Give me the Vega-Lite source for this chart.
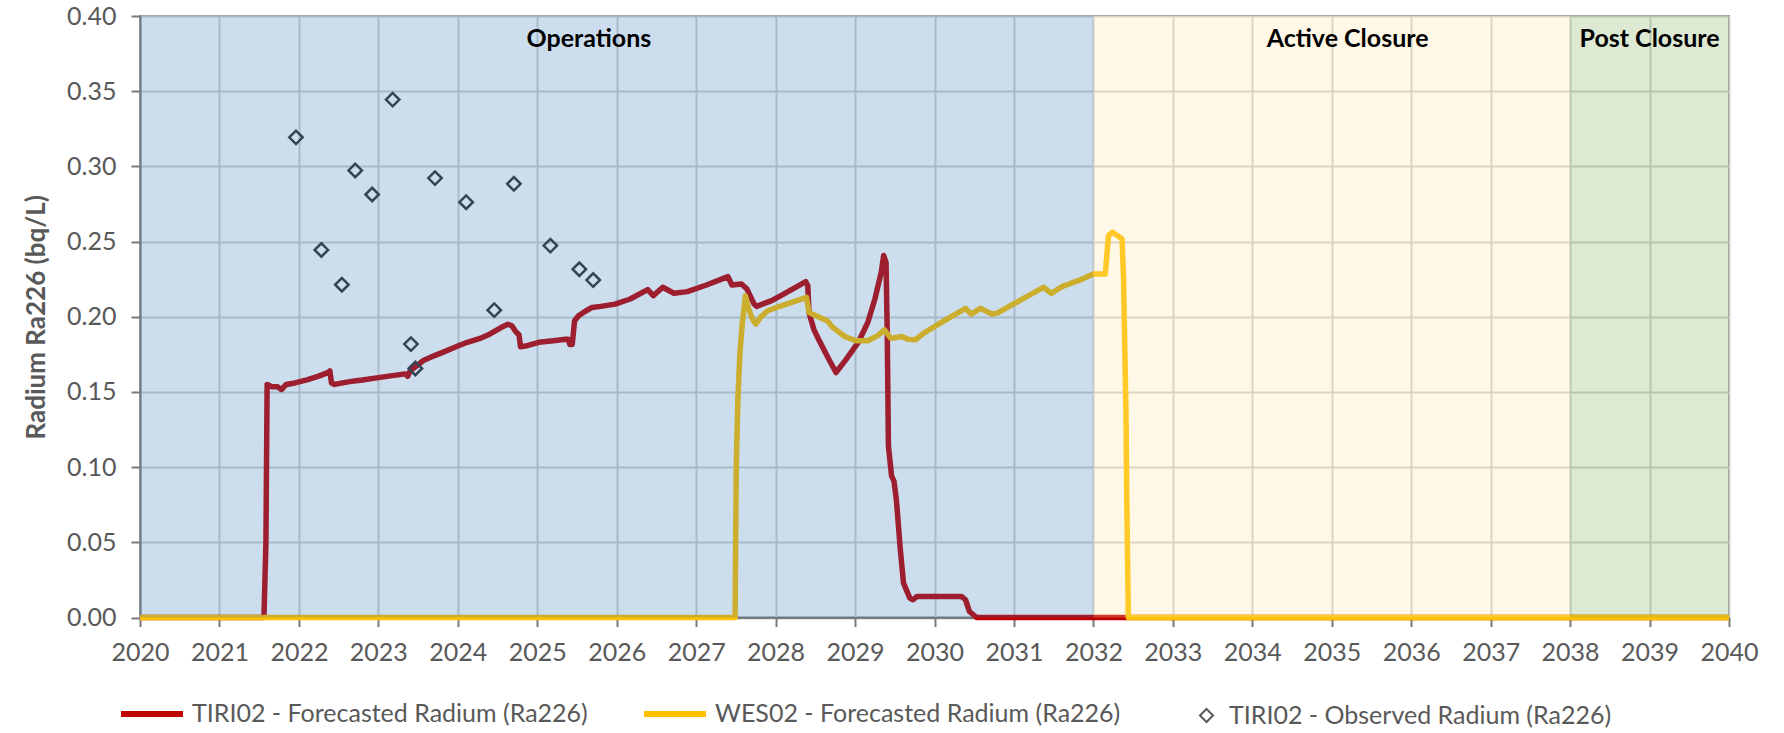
{
  "$schema": "https://vega.github.io/schema/vega-lite/v6.json",
  "width": 1589,
  "height": 601.5,
  "autosize": {"type": "none"},
  "padding": {"left": 140, "top": 16, "right": 55, "bottom": 115.5},
  "background": "white",
  "config": {
    "font": "Lato",
    "view": {"stroke": "#7f7f7f", "strokeWidth": 2},
    "axis": {
      "grid": true,
      "gridColor": "#cfcfcf",
      "gridWidth": 2,
      "domainColor": "#7a7a7a",
      "domainWidth": 2,
      "tickColor": "#7a7a7a",
      "tickWidth": 2,
      "tickSize": 9,
      "labelFont": "Lato",
      "labelFontSize": 25,
      "labelColor": "#595959",
      "labelOverlap": false,
      "labelFlush": false
    }
  },
  "datasets": {
    "tiri": [
      {"year": 2020, "value": 0},
      {"year": 2021.56, "value": 0},
      {"year": 2021.585, "value": 0.05},
      {"year": 2021.6, "value": 0.155},
      {"year": 2021.66, "value": 0.1535},
      {"year": 2021.73, "value": 0.1535},
      {"year": 2021.78, "value": 0.1515},
      {"year": 2021.84, "value": 0.155},
      {"year": 2021.95, "value": 0.156},
      {"year": 2022.1, "value": 0.158},
      {"year": 2022.25, "value": 0.1605},
      {"year": 2022.37, "value": 0.163},
      {"year": 2022.39, "value": 0.164},
      {"year": 2022.41, "value": 0.156},
      {"year": 2022.45, "value": 0.155},
      {"year": 2022.55, "value": 0.156},
      {"year": 2022.66, "value": 0.157},
      {"year": 2022.72, "value": 0.1575},
      {"year": 2022.8, "value": 0.158},
      {"year": 2023.0, "value": 0.1595},
      {"year": 2023.2, "value": 0.161},
      {"year": 2023.34, "value": 0.162},
      {"year": 2023.37, "value": 0.1605},
      {"year": 2023.4, "value": 0.164},
      {"year": 2023.45, "value": 0.166},
      {"year": 2023.56, "value": 0.1707},
      {"year": 2023.7, "value": 0.174},
      {"year": 2023.84, "value": 0.177},
      {"year": 2024.0, "value": 0.1805},
      {"year": 2024.12, "value": 0.183},
      {"year": 2024.3, "value": 0.186},
      {"year": 2024.4, "value": 0.1884},
      {"year": 2024.55, "value": 0.193},
      {"year": 2024.63, "value": 0.195},
      {"year": 2024.68, "value": 0.194},
      {"year": 2024.73, "value": 0.19},
      {"year": 2024.77, "value": 0.188},
      {"year": 2024.79, "value": 0.18},
      {"year": 2024.85, "value": 0.1805},
      {"year": 2025.02, "value": 0.183},
      {"year": 2025.2, "value": 0.184},
      {"year": 2025.36, "value": 0.1851},
      {"year": 2025.39, "value": 0.1851},
      {"year": 2025.41, "value": 0.1815},
      {"year": 2025.44, "value": 0.1815},
      {"year": 2025.47, "value": 0.1973},
      {"year": 2025.52, "value": 0.2007},
      {"year": 2025.6, "value": 0.2035},
      {"year": 2025.69, "value": 0.2062},
      {"year": 2025.8, "value": 0.2069},
      {"year": 2025.98, "value": 0.2084},
      {"year": 2026.17, "value": 0.2118},
      {"year": 2026.39, "value": 0.218},
      {"year": 2026.46, "value": 0.214},
      {"year": 2026.58, "value": 0.2196},
      {"year": 2026.72, "value": 0.2156},
      {"year": 2026.89, "value": 0.2167},
      {"year": 2027.13, "value": 0.2211},
      {"year": 2027.4, "value": 0.2267},
      {"year": 2027.45, "value": 0.2211},
      {"year": 2027.57, "value": 0.2218},
      {"year": 2027.64, "value": 0.2184},
      {"year": 2027.73, "value": 0.2084},
      {"year": 2027.76, "value": 0.2069},
      {"year": 2027.95, "value": 0.2107},
      {"year": 2028.14, "value": 0.2162},
      {"year": 2028.38, "value": 0.2233},
      {"year": 2028.405, "value": 0.2207},
      {"year": 2028.42, "value": 0.2029},
      {"year": 2028.48, "value": 0.1918},
      {"year": 2028.55, "value": 0.184},
      {"year": 2028.67, "value": 0.1718},
      {"year": 2028.76, "value": 0.1629},
      {"year": 2028.89, "value": 0.1718},
      {"year": 2029.04, "value": 0.1829},
      {"year": 2029.16, "value": 0.1962},
      {"year": 2029.25, "value": 0.2118},
      {"year": 2029.33, "value": 0.2296},
      {"year": 2029.36, "value": 0.2407},
      {"year": 2029.39, "value": 0.2362},
      {"year": 2029.405, "value": 0.1896},
      {"year": 2029.42, "value": 0.114},
      {"year": 2029.46, "value": 0.094},
      {"year": 2029.49, "value": 0.0907},
      {"year": 2029.52, "value": 0.0784},
      {"year": 2029.57, "value": 0.0451},
      {"year": 2029.61, "value": 0.0229},
      {"year": 2029.69, "value": 0.0129},
      {"year": 2029.73, "value": 0.0118},
      {"year": 2029.78, "value": 0.014},
      {"year": 2030.34, "value": 0.014},
      {"year": 2030.39, "value": 0.0118},
      {"year": 2030.44, "value": 0.004},
      {"year": 2030.53, "value": 0},
      {"year": 2040, "value": 0}
    ],
    "wes": [
      {"year": 2020, "value": 0},
      {"year": 2027.49, "value": 0},
      {"year": 2027.505, "value": 0.1},
      {"year": 2027.525, "value": 0.145},
      {"year": 2027.55, "value": 0.175},
      {"year": 2027.58, "value": 0.195},
      {"year": 2027.62, "value": 0.214},
      {"year": 2027.66, "value": 0.2051},
      {"year": 2027.71, "value": 0.1984},
      {"year": 2027.75, "value": 0.1951},
      {"year": 2027.81, "value": 0.1996},
      {"year": 2027.9, "value": 0.204},
      {"year": 2028.1, "value": 0.2078},
      {"year": 2028.39, "value": 0.2129},
      {"year": 2028.42, "value": 0.2029},
      {"year": 2028.53, "value": 0.2002},
      {"year": 2028.65, "value": 0.1973},
      {"year": 2028.72, "value": 0.1929},
      {"year": 2028.87, "value": 0.1869},
      {"year": 2029.01, "value": 0.184},
      {"year": 2029.16, "value": 0.184},
      {"year": 2029.28, "value": 0.1873},
      {"year": 2029.37, "value": 0.1913},
      {"year": 2029.45, "value": 0.1856},
      {"year": 2029.59, "value": 0.1869},
      {"year": 2029.66, "value": 0.1851},
      {"year": 2029.76, "value": 0.1847},
      {"year": 2029.88, "value": 0.1896},
      {"year": 2030.12, "value": 0.1973},
      {"year": 2030.39, "value": 0.2056},
      {"year": 2030.46, "value": 0.2018},
      {"year": 2030.58, "value": 0.2056},
      {"year": 2030.72, "value": 0.2018},
      {"year": 2030.79, "value": 0.2024},
      {"year": 2030.99, "value": 0.2084},
      {"year": 2031.37, "value": 0.2196},
      {"year": 2031.47, "value": 0.2156},
      {"year": 2031.61, "value": 0.2202},
      {"year": 2031.81, "value": 0.224},
      {"year": 2032.0, "value": 0.2284},
      {"year": 2032.15, "value": 0.2284},
      {"year": 2032.19, "value": 0.254},
      {"year": 2032.24, "value": 0.2562},
      {"year": 2032.36, "value": 0.2518},
      {"year": 2032.38, "value": 0.2251},
      {"year": 2032.39, "value": 0.194},
      {"year": 2032.41, "value": 0.1362},
      {"year": 2032.42, "value": 0.0784},
      {"year": 2032.44, "value": 0},
      {"year": 2040, "value": 0}
    ],
    "obs": [
      {"year": 2021.963, "value": 0.3193},
      {"year": 2022.283, "value": 0.2444},
      {"year": 2022.541, "value": 0.2213},
      {"year": 2022.709, "value": 0.2973},
      {"year": 2022.922, "value": 0.2813},
      {"year": 2023.18, "value": 0.3444},
      {"year": 2023.41, "value": 0.1818},
      {"year": 2023.466, "value": 0.1656},
      {"year": 2023.713, "value": 0.2922},
      {"year": 2024.105, "value": 0.2762},
      {"year": 2024.459, "value": 0.2044},
      {"year": 2024.706, "value": 0.2884},
      {"year": 2025.165, "value": 0.2473},
      {"year": 2025.53, "value": 0.2316},
      {"year": 2025.704, "value": 0.2244}
    ],
    "regions": [
      {"name": "Operations", "start": 2020, "end": 2032, "labelYear": 2025.65},
      {"name": "Active Closure", "start": 2032, "end": 2038, "labelYear": 2035.2},
      {"name": "Post Closure", "start": 2038, "end": 2040, "labelYear": 2039.0}
    ]
  },
  "layer": [
    {
      "data": {"name": "tiri"},
      "mark": {"type": "line", "strokeWidth": 5.5, "strokeJoin": "round"},
      "encoding": {
        "x": {
          "field": "year", "type": "quantitative",
          "scale": {"domain": [2020, 2040], "nice": false, "zero": false},
          "axis": {
            "values": [2020,2021,2022,2023,2024,2025,2026,2027,2028,2029,2030,2031,2032,2033,2034,2035,2036,2037,2038,2039,2040],
            "format": "d", "title": null, "labelPadding": 14
          }
        },
        "y": {
          "field": "value", "type": "quantitative",
          "scale": {"domain": [0, 0.4], "nice": false},
          "axis": {
            "values": [0, 0.05, 0.1, 0.15, 0.2, 0.25, 0.3, 0.35, 0.4],
            "format": ".2f",
            "title": "Radium Ra226 (bq/L)",
            "titleFont": "Lato",
            "titleFontSize": 26,
            "titleFontWeight": "bold",
            "titleColor": "#595959",
            "titlePadding": 17,
            "labelPadding": 15
          }
        },
        "color": {
          "datum": "TIRI02 - Forecasted Radium (Ra226)",
          "scale": {
            "domain": ["TIRI02 - Forecasted Radium (Ra226)", "WES02 - Forecasted Radium (Ra226)"],
            "range": ["#C00000", "#FFC000"]
          },
          "legend": {
            "orient": "none",
            "legendX": -22,
            "legendY": 664,
            "direction": "horizontal",
            "columns": 2,
            "gridAlign": "each",
            "title": null,
            "padding": 0,
            "symbolType": "stroke",
            "symbolSize": 3844,
            "symbolStrokeWidth": 6,
            "labelFont": "Lato",
            "labelFontSize": 25,
            "labelColor": "#595959",
            "labelOffset": 6,
            "columnPadding": 44,
            "labelLimit": 0
          }
        }
      }
    },
    {
      "data": {"name": "wes"},
      "mark": {"type": "line", "strokeWidth": 5.5, "strokeJoin": "round"},
      "encoding": {
        "x": {"field": "year", "type": "quantitative"},
        "y": {"field": "value", "type": "quantitative"},
        "color": {"datum": "WES02 - Forecasted Radium (Ra226)"}
      }
    },
    {
      "data": {"name": "obs"},
      "mark": {"type": "point", "filled": false, "strokeWidth": 2.5, "size": 180, "color": "#333333", "opacity": 1},
      "encoding": {
        "x": {"field": "year", "type": "quantitative"},
        "y": {"field": "value", "type": "quantitative"},
        "shape": {
          "datum": "TIRI02 - Observed Radium (Ra226)",
          "scale": {"domain": ["TIRI02 - Observed Radium (Ra226)"], "range": ["diamond"]},
          "legend": {
            "orient": "none",
            "legendX": 1054,
            "legendY": 687,
            "title": null,
            "padding": 0,
            "symbolSize": 169,
            "symbolStrokeWidth": 2,
            "symbolStrokeColor": "#595959",
            "symbolFillColor": "transparent",
            "labelFont": "Lato",
            "labelFontSize": 25,
            "labelColor": "#595959",
            "labelOffset": 10,
            "labelLimit": 0
          }
        }
      }
    },
    {
      "data": {"name": "regions"},
      "mark": {"type": "rect", "opacity": 0.25},
      "encoding": {
        "x": {"field": "start", "type": "quantitative"},
        "x2": {"field": "end"},
        "fill": {
          "field": "name", "type": "nominal",
          "scale": {"domain": ["Operations", "Active Closure", "Post Closure"], "range": ["#3377B7", "#FFE39B", "#77A74B"]},
          "legend": null
        }
      }
    },
    {
      "data": {"name": "regions"},
      "mark": {"type": "text", "font": "Lato", "fontWeight": "bold", "fontSize": 25, "color": "#000000", "align": "center", "baseline": "middle"},
      "encoding": {
        "x": {"field": "labelYear", "type": "quantitative"},
        "y": {"datum": 0.385},
        "text": {"field": "name"}
      }
    }
  ]
}
